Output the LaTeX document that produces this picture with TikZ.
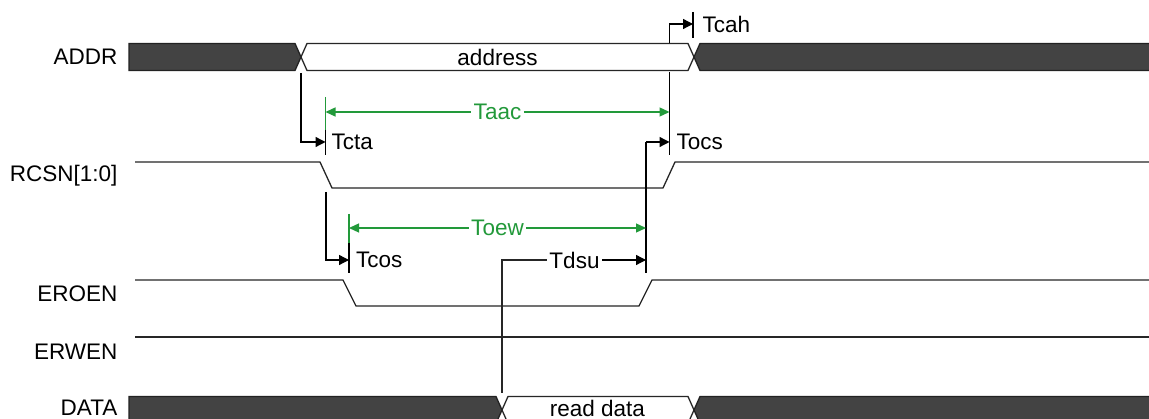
\documentclass[tikz,border=0pt]{standalone}
\usepackage{fontspec}
\setmainfont{Liberation Sans}
\usetikzlibrary{arrows.meta}
\definecolor{busfill}{HTML}{434343}
\definecolor{busline}{HTML}{222222}
\definecolor{tgreen}{HTML}{22993A}
\begin{document}
\begin{tikzpicture}[x=1pt,y=-1pt,line width=1.3pt,line join=miter,
  fnt/.style={font=\fontsize{22.5}{26}\selectfont},
  lbl/.style={fnt,anchor=east,inner sep=0pt},
  tlbl/.style={fnt,anchor=west,inner sep=0pt},
  clbl/.style={fnt,inner xsep=2pt,inner ysep=0pt},
  sig/.style={draw=black!85},
  bus/.style={fill=busfill,draw=busline},
  wbus/.style={draw=black!85,fill=white},
  tip/.style={draw=black,-{Triangle[length=10pt,width=10pt]}},
  gtick/.style={draw=tgreen},
  tick/.style={draw=black}]
\useasboundingbox (0,0) rectangle (1149,419);
\clip (0,0) rectangle (1149,419);
\fill[white] (0,0) rectangle (1149,419);

% signal names
\node[lbl] (lADDR) at (118,57) {ADDR};
\node[lbl] (lRCSN) at (118,176) {RCSN[1:0]};
\node[lbl] (lEROEN) at (118,294) {EROEN};
\node[lbl] (lERWEN) at (118,352) {ERWEN};
\node[lbl] (lDATA) at (118,407.5) {DATA};

% ADDR bus
\filldraw[bus] (129,43.5) -- (295,43.5) -- (301,57) -- (295,70.5) -- (129,70.5) -- cycle;
\draw[wbus] (301,57) -- (307,43.5) -- (688,43.5) -- (694,57) -- (688,70.5) -- (307,70.5) -- cycle;
\filldraw[bus] (1160,43.5) -- (700,43.5) -- (694,57) -- (700,70.5) -- (1160,70.5);
\node[fnt,inner sep=0pt] (addr) at (497.5,57) {address};

% RCSN
\draw[sig] (135,162) -- (320,162) -- (332,188) -- (663,188) -- (675,162) -- (1160,162);
% EROEN
\draw[sig] (135,280) -- (343,280) -- (356,306) -- (639,306) -- (652,280) -- (1160,280);
% ERWEN
\draw[sig] (135,337) -- (1160,337);

% DATA bus
\filldraw[bus] (129,396.5) -- (496,396.5) -- (502,410) -- (496,423.5) -- (129,423.5) -- cycle;
\draw[wbus] (502,410) -- (508,396.5) -- (688,396.5) -- (694,410) -- (688,423.5) -- (508,423.5) -- cycle;
\filldraw[bus] (1160,396.5) -- (700,396.5) -- (694,410) -- (700,423.5) -- (1160,423.5);
\node[fnt,inner sep=0pt] (rdata) at (597.5,408.5) {read data};

% coordinates
\coordinate (ctaTop) at (301,73);
\coordinate (ctaTip) at (325.5,142);
\coordinate (ctaT1) at (325.5,97);
\coordinate (ctaT2) at (325.5,130);
\coordinate (ctaT3) at (325.5,155);
\coordinate (aacL) at (325.5,112);
\coordinate (aacR) at (669.5,112);
\coordinate (ocsT1) at (669.5,72);
\coordinate (ocsT2) at (669.5,155);
\coordinate (ocsTip) at (669.5,142);
\coordinate (ocsStart) at (646,142);
\coordinate (dsuT) at (646,273);
\coordinate (cahBase) at (669.5,43.5);
\coordinate (cahTip) at (693,24);
\coordinate (cahT1) at (693,12);
\coordinate (cahT2) at (693,38);
\coordinate (cosTop) at (326,192);
\coordinate (cosTip) at (349,260);
\coordinate (cosT1) at (349,214);
\coordinate (cosT2) at (349,243);
\coordinate (cosT3) at (349,273);
\coordinate (oewL) at (349,228);
\coordinate (oewR) at (646,228);
\coordinate (dsuBase) at (502,393);
\coordinate (dsuCorner) at (502,260);
\coordinate (dsuTip) at (646,260);

% labels
\node[tlbl] (tcta) at (331,142) {Tcta};
\node[tlbl] (tocs) at (676,142) {Tocs};
\node[tlbl] (tcah) at (702,24) {Tcah};
\node[tlbl] (tcos) at (355.5,260) {Tcos};
\node[clbl,text=tgreen] (taac) at (497.5,112) {Taac};
\node[clbl,text=tgreen] (toew) at (497.5,228) {Toew};
\node[clbl] (tdsu) at (574.5,260) {Tdsu};

% Tcta
\draw[tip] (ctaTop) |- (ctaTip);
\draw[gtick] (ctaT1) -- (ctaT2);
\draw[tick] (ctaT2) -- (ctaT3);
% Taac
\draw[draw=tgreen,{Triangle[length=10pt,width=9pt]}-] (aacL) -- (taac.west);
\draw[draw=tgreen,-{Triangle[length=10pt,width=9pt]}] (taac.east) -- (aacR);
% Tocs
\draw[tick] (ocsT1) -- (ocsT2);
\draw[tip] (ocsStart) -- (ocsTip);
\draw[tick] (ocsStart) -- (dsuT);
% Tcah
\draw[tip] (cahBase) |- (cahTip);
\draw[tick] (cahT1) -- (cahT2);
% Tcos
\draw[tip] (cosTop) |- (cosTip);
\draw[gtick] (cosT1) -- (cosT2);
\draw[tick] (cosT2) -- (cosT3);
% Toew
\draw[draw=tgreen,{Triangle[length=10pt,width=9pt]}-] (oewL) -- (toew.west);
\draw[draw=tgreen,-{Triangle[length=10pt,width=9pt]}] (toew.east) -- (oewR);
% Tdsu
\draw[sig] (dsuBase) -- (dsuCorner) -- (tdsu.west);
\draw[tip] (tdsu.east) -- (dsuTip);
\end{tikzpicture}
\end{document}
